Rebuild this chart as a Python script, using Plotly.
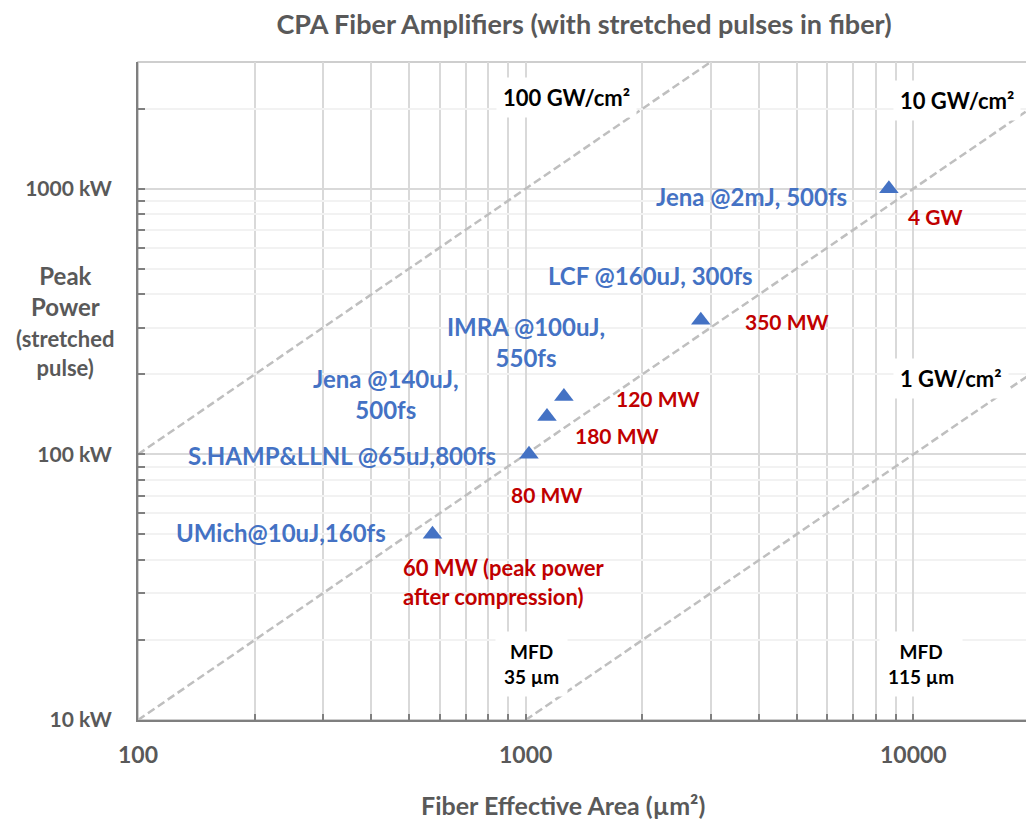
import math
import plotly.graph_objects as go

# ---------------- data ----------------
title_text = "CPA Fiber Amplifiers (with stretched pulses in fiber)"
x_title = "Fiber Effective Area (µm²)"

systems = ["UMich@10uJ,160fs", "S.HAMP&LLNL @65uJ,800fs", "Jena @140uJ,<br>500fs",
           "IMRA @100uJ,<br>550fs", "LCF @160uJ, 300fs", "Jena @2mJ, 500fs"]
area_um2 = [575, 1020, 1135, 1255, 2830, 8650]
peak_kw = [50, 100, 139, 165, 320, 1000]
compressed_power = ["60 MW (peak power<br>after compression)", "80 MW", "180 MW",
                    "120 MW", "350 MW", "4 GW"]

iso_labels = ["100 GW/cm²", "10 GW/cm²", "1 GW/cm²"]
iso_x = [[100, 3000], [100, 20000], [1000, 20000]]
iso_y = [[100, 3000], [10, 2000], [10, 200]]
iso_label_x = [1271, 12970, 12520]
iso_label_y = [2200, 2143, 193]

mfd_labels = ["MFD<br>35 µm", "MFD<br>115 µm"]
mfd_x = [1033, 10470]
mfd_y = [16.2, 16.2]

x_tickvals = [100, 1000, 10000]
x_ticktext = ["100", "1000", "10000"]
y_tickvals = [10, 100, 1000]
y_ticktext = ["10 kW", "100 kW", "1000 kW"]

# ---------------- style ----------------
FONT = "Lato"
GREY_TXT = "#595959"
BLUE = "#4472C4"
RED = "#C00000"
OFF = 8  # page body margin offset

# label offsets relative to the data point (pixels)
sys_shift = [(-151, 2), (-187, -1), (-161, 22), (-38, 55), (-50, 45), (-137, -8)]
red_shift = [(72, -48), (18, -40), (70, -19), (94, -2), (86, -1), (46, -28)]

minor_x = [m * 10 ** e for e in (2, 3, 4) for m in range(2, 10) if m * 10 ** e <= 20000]
minor_y = [m * 10 ** e for e in (1, 2, 3) for m in range(2, 10) if m * 10 ** e <= 3000]

fig = go.Figure()

for lx, ly in zip(iso_x, iso_y):
    fig.add_trace(go.Scatter(x=lx, y=ly, mode="lines",
                             line=dict(color="#BFBFBF", width=2.5, dash="8px,4px"),
                             hoverinfo="skip", showlegend=False))

fig.add_trace(go.Scatter(x=area_um2, y=peak_kw, mode="markers",
                         marker=dict(symbol="triangle-up", size=17, color=BLUE),
                         showlegend=False))

annotations = []
for i, s in enumerate(systems):
    dx, dy = sys_shift[i]
    annotations.append(dict(x=math.log10(area_um2[i]), y=math.log10(peak_kw[i]),
                            xref="x", yref="y", text=s, showarrow=False,
                            xshift=dx, yshift=dy, align="center",
                            font=dict(family=FONT, size=24, color=BLUE, weight="bold")))
for i, s in enumerate(compressed_power):
    dx, dy = red_shift[i]
    annotations.append(dict(x=math.log10(area_um2[i]), y=math.log10(peak_kw[i]),
                            xref="x", yref="y", text=s, showarrow=False,
                            xshift=dx, yshift=dy, align="left",
                            font=dict(family=FONT, size=22 if i == 0 else 21,
                                      color=RED, weight="bold")))
for i, s in enumerate(iso_labels):
    annotations.append(dict(x=math.log10(iso_label_x[i]), y=math.log10(iso_label_y[i]),
                            xref="x", yref="y", text=s, showarrow=False,
                            bgcolor="white", borderpad=6,
                            font=dict(family=FONT, size=22, color="black", weight="bold")))
for i, s in enumerate(mfd_labels):
    annotations.append(dict(x=math.log10(mfd_x[i]), y=math.log10(mfd_y[i]),
                            xref="x", yref="y", text=s, showarrow=False,
                            bgcolor="white", borderpad=8,
                            font=dict(family=FONT, size=19, color="black", weight="bold")))

# y-axis title (two parts, different sizes)
annotations.append(dict(x=0, y=1 + (720 - 291) / 265.6, xref="paper", yref="y",
                        xanchor="center", yanchor="middle", text="Peak<br>Power",
                        showarrow=False, xshift=-73,
                        font=dict(family=FONT, size=24, color=GREY_TXT, weight="bold")))
annotations.append(dict(x=0, y=1 + (720 - 353) / 265.6, xref="paper", yref="y",
                        xanchor="center", yanchor="middle", text="(stretched<br>pulse)",
                        showarrow=False, xshift=-73,
                        font=dict(family=FONT, size=22, color=GREY_TXT, weight="bold")))
# x-axis title
annotations.append(dict(x=0.5, y=0, xref="paper", yref="paper", xanchor="center",
                        yanchor="middle", text=x_title, showarrow=False,
                        xshift=-21, yshift=-85,
                        font=dict(family=FONT, size=25, color=GREY_TXT, weight="bold")))

fig.update_layout(
    width=1034, height=819,
    margin=dict(l=138 - OFF, r=4 + OFF, t=62 - OFF, b=99 + OFF),
    paper_bgcolor="white", plot_bgcolor="white",
    title=dict(text=title_text, x=0.5, xref="paper", xanchor="center",
               y=1 - (25 - OFF) / 819, yref="container", yanchor="middle",
               font=dict(family=FONT, size=27, color=GREY_TXT, weight="bold")),
    annotations=annotations,
    shapes=[dict(type="rect", xref="paper", yref="paper", x0=0, x1=1, y0=0, y1=1,
                 line=dict(color="#BFBFBF", width=1.5), layer="below")],
)

fig.update_xaxes(type="log", range=[2, math.log10(20000)],
                 tickvals=x_tickvals, ticktext=x_ticktext,
                 tickfont=dict(family=FONT, size=23, color=GREY_TXT, weight="bold"),
                 ticks="inside", ticklen=6, tickcolor="#7F7F7F", tickwidth=1.5,
                 ticklabelstandoff=13,
                 showline=True, linecolor="#7F7F7F", linewidth=2,
                 showgrid=True, gridcolor="#D9D9D9", gridwidth=1.5, zeroline=False,
                 minor=dict(tickmode="array", tickvals=minor_x, ticks="inside", ticklen=6,
                            tickcolor="#7F7F7F", tickwidth=1.5,
                            showgrid=True, gridcolor="#D9D9D9", gridwidth=1.5))
fig.update_yaxes(type="log", range=[1, math.log10(3000)],
                 tickvals=y_tickvals, ticktext=y_ticktext,
                 tickfont=dict(family=FONT, size=21, color=GREY_TXT, weight="bold"),
                 ticks="inside", ticklen=7, tickcolor="#7F7F7F", tickwidth=1.5,
                 ticklabelstandoff=20,
                 showline=True, linecolor="#7F7F7F", linewidth=2,
                 showgrid=True, gridcolor="#D9D9D9", gridwidth=1.5, zeroline=False,
                 minor=dict(tickmode="array", tickvals=minor_y, ticks="inside", ticklen=7,
                            tickcolor="#7F7F7F", tickwidth=1.5,
                            showgrid=True, gridcolor="#F2F2F2", gridwidth=1.5))

fig.write_html("out.html")
